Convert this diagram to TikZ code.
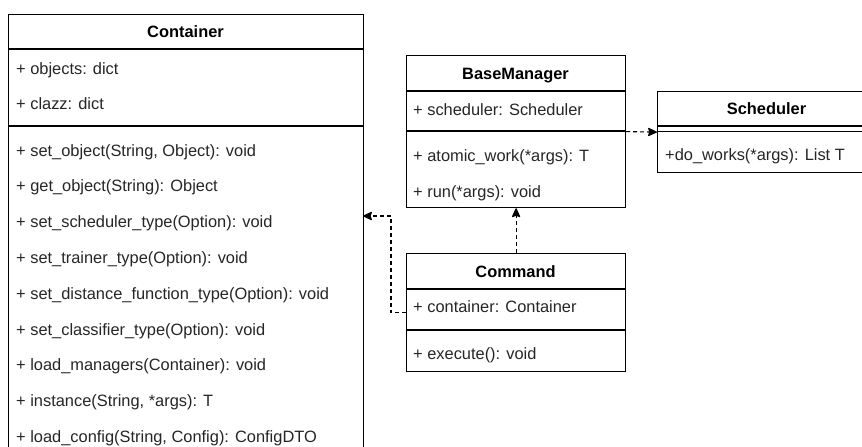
\documentclass[tikz,border=0pt]{standalone}
\usepackage{fontspec}
\setmainfont{Liberation Sans}
\usetikzlibrary{arrows.meta}
\begin{document}
\begin{tikzpicture}[x=1pt,y=-1pt,
  classbox/.style={draw=black, line width=1.2pt, fill=white, anchor=north west, inner sep=0pt},
  title/.style={font=\fontsize{16.4}{18}\selectfont\bfseries, anchor=base, inner sep=0pt},
  member/.style={font=\fontsize{16.4}{18}\selectfont, anchor=base west, inner sep=0pt, text=black!85},
  sep/.style={line width=1.2pt},
  dep/.style={line width=1.1pt, dash pattern=on 4pt off 3pt,
    -{Stealth[length=10pt, width=9pt, inset=1.5pt, round]}}]
\useasboundingbox (0,0) rectangle (862,447);
\clip (0,0) rectangle (862,447);
\fill[white] (0,0) rectangle (862,447);

% Container class (runs past the lower edge)
\node[classbox, minimum width=355pt, minimum height=470pt] (container) at (8,14) {};
\draw[sep] (8,49) -- (363,49);
\draw[sep] (8,126) -- (363,126);
\node[title] (containerT) at (185.5,37.4) {Container};
\node[member] (cA1) at (16,74) {+ objects: dict};
\node[member] (cA2) at (16,109) {+ clazz: dict};
\node[member] (cM1) at (16,156) {+ set\_object(String, Object): void};
\node[member] (cM2) at (16,191.8) {+ get\_object(String): Object};
\node[member] (cM3) at (16,227.6) {+ set\_scheduler\_type(Option): void};
\node[member] (cM4) at (16,263.4) {+ set\_trainer\_type(Option): void};
\node[member] (cM5) at (16,299.2) {+ set\_distance\_function\_type(Option): void};
\node[member] (cM6) at (16,335) {+ set\_classifier\_type(Option): void};
\node[member] (cM7) at (16,370.8) {+ load\_managers(Container): void};
\node[member] (cM8) at (16,406.6) {+ instance(String, *args): T};
\node[member] (cM9) at (16,442.4) {+ load\_config(String, Config): ConfigDTO};

% BaseManager class
\node[classbox, minimum width=219pt, minimum height=152pt] (basemanager) at (406,55) {};
\draw[sep] (406,91) -- (625,91);
\draw[sep] (406,131) -- (625,131);
\node[title] (basemanagerT) at (515.5,79) {BaseManager};
\node[member] (bA1) at (413,115) {+ scheduler: Scheduler};
\node[member] (bM1) at (413,161.5) {+ atomic\_work(*args): T};
\node[member] (bM2) at (413,197) {+ run(*args): void};

% Scheduler class (runs past the right edge)
\node[classbox, minimum width=219pt, minimum height=81pt] (scheduler) at (657,91) {};
\draw[sep] (657,126) -- (876,126);
\draw[sep] (657,131.5) -- (876,131.5);
\node[title] (schedulerT) at (766.5,114.4) {Scheduler};
\node[member] (sM1) at (665,160.7) {+do\_works(*args): List T};

% Command class
\node[classbox, minimum width=219pt, minimum height=118pt] (command) at (406,253) {};
\draw[sep] (406,289) -- (625,289);
\draw[sep] (406,330) -- (625,330);
\node[title] (commandT) at (515.5,277) {Command};
\node[member] (mA1) at (413,312.7) {+ container: Container};
\node[member] (mM1) at (413,359) {+ execute(): void};

% Dependencies
\coordinate (containerIn) at (363,216);
\draw[dep] (basemanager.east) -- (scheduler.west);
\draw[dep] (command.north) -- (basemanager.south);
\draw[dep] (command.west) -- ++(-15,0) |- (containerIn);
\end{tikzpicture}
\end{document}
